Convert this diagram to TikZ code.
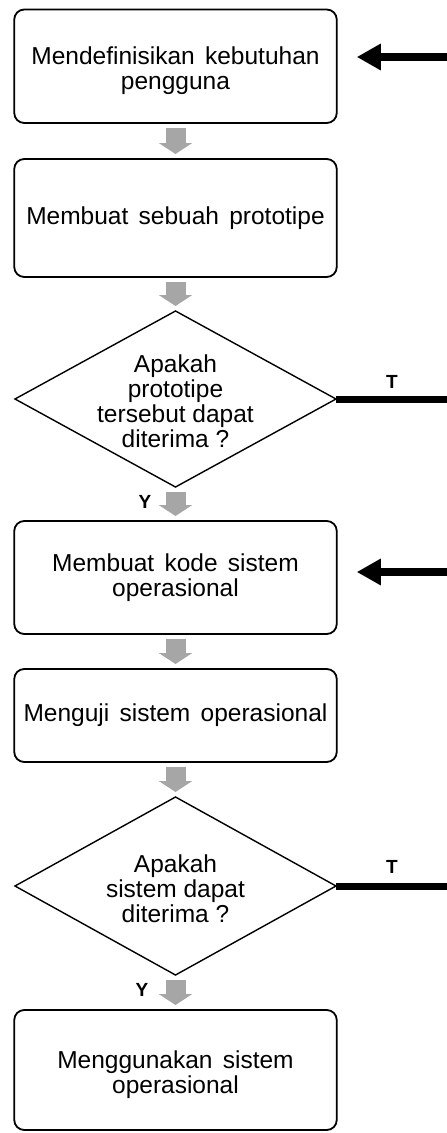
\documentclass[tikz,border=0pt]{standalone}
\usepackage{fontspec}
\setmainfont{Liberation Sans}
\usetikzlibrary{shapes.geometric,arrows.meta}
\definecolor{arrowgray}{RGB}{166,166,166}
\newcommand\myboxfont{\fontsize{24.5}{25}\selectfont\spaceskip=0.42em plus 0.1em\relax}
\newcommand\mydiafont{\fontsize{24.5}{25}\selectfont}
\newcommand\mylblfont{\fontsize{19}{20}\selectfont\bfseries}
\tikzset{
  stepbox/.style={draw=black, line width=1.8pt, rounded corners=10pt, minimum width=322.5pt, inner sep=0pt, outer sep=0pt, align=center,
    font=\myboxfont},
  boxtext/.style={align=center, inner sep=0pt, font=\myboxfont},
  decision/.style={draw=black, line width=1.4pt, diamond, inner sep=0pt, outer sep=0pt},
  dtext/.style={align=center, inner sep=0pt, font=\mydiafont},
  grayarrow/.style={draw=arrowgray, line width=20pt, shorten <=5pt, shorten >=5pt, -{Triangle[length=11pt,width=33pt]}},
  backline/.style={draw=black, line width=7pt},
  backarrow/.style={draw=black, line width=8pt, shorten >=20pt, -{Triangle[length=24pt,width=25pt]}},
  lbl/.style={font=\mylblfont, inner sep=0pt}
}
\begin{document}
\begin{tikzpicture}[x=1pt,y=-1pt]
\useasboundingbox (0,0) rectangle (447,1133);
% boxes
\node[stepbox, minimum height=113.5pt] (b1) at (175.5,66.25) {};
\node[boxtext] (b1t) at (175.5,70.5) {Mendefinisikan kebutuhan\\pengguna};
\node[stepbox, minimum height=118pt] (b2) at (175.5,218) {Membuat sebuah prototipe};
\node[decision, minimum width=321pt, minimum height=176pt] (d1) at (175.5,399) {};
\node[dtext] (d1t) at (175.5,401) {Apakah\\prototipe\\tersebut dapat\\diterima ?};
\node[stepbox, minimum height=113pt] (b3) at (175.5,577.5) {Membuat kode sistem\\operasional};
\node[stepbox, minimum height=93pt] (b4) at (175.5,715.5) {Menguji sistem operasional};
\node[decision, minimum width=321pt, minimum height=178pt] (d2) at (175.5,886) {};
\node[dtext] (d2t) at (175.5,889) {Apakah\\sistem dapat\\diterima ?};
\node[stepbox, minimum height=120pt] (b5) at (175.5,1070) {};
\node[boxtext] (b5t) at (175.5,1074.5) {Menggunakan sistem\\operasional};
% gray flow arrows
\draw[grayarrow] (b1.south) -- (b2.north);
\draw[grayarrow] (b2.south) -- (d1.north);
\draw[grayarrow] (d1.south) -- (b3.north);
\draw[grayarrow] (b3.south) -- (b4.north);
\draw[grayarrow] (b4.south) -- (d2.north);
\draw[grayarrow] (d2.south) -- (b5.north);
% back lines
\coordinate (r1) at (447,399);
\coordinate (r2) at (447,886);
\draw[backline] (d1.east) -- (r1);
\draw[backline] (d2.east) -- (r2);
\coordinate (a1) at (447,57);
\coordinate (a3) at (447,572);
\draw[backarrow] (a1) -- (b1.east |- a1);
\draw[backarrow] (a3) -- (b3.east |- a3);
% labels
\node[lbl] (t1) at (392,382) {T};
\node[lbl] (t2) at (392,867) {T};
\node[lbl] (y1) at (145,502) {Y};
\node[lbl] (y2) at (142,990) {Y};
\end{tikzpicture}
\end{document}
